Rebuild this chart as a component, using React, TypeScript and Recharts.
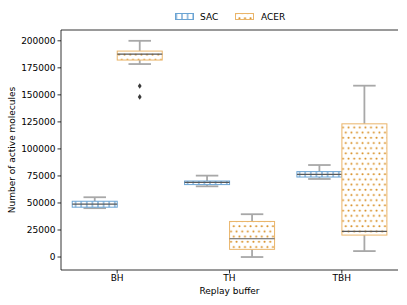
import React from "react";
import { Bar, ComposedChart, ReferenceLine, XAxis, YAxis } from "recharts";

const categories = ["BH", "TH", "TBH"];

const sacMin = [45200, 65400, 72200];
const sacQ1 = [46100, 67000, 74000];
const sacMedian = [49000, 69000, 76500];
const sacQ3 = [51600, 70300, 79000];
const sacMax = [55300, 75300, 85100];
const sacOutliers: number[][] = [[], [], []];

const acerMin = [178500, 0, 5500];
const acerQ1 = [182200, 7100, 20300];
const acerMedian = [187700, 16900, 23700];
const acerQ3 = [190500, 32900, 123200];
const acerMax = [200000, 39600, 158500];
const acerOutliers: number[][] = [[158200, 148100], [], []];

const yTicks = [0, 25000, 50000, 75000, 100000, 125000, 150000, 175000, 200000];
const yDomain = [-12000, 210000];
const xDomain = [-0.5, 2.5];

const SAC_EDGE = "#6aa4d4";
const SAC_HATCH = "#3f86c2";
const ACER_EDGE = "#eab56a";
const ACER_HATCH = "#d68a1a";
const WHISKER = "#a8a8a8";
const MEDIAN = "#595959";
const FONT = "DejaVu Sans";

const data = categories.map((cat, i) => ({
  cat,
  sacRange: [sacMin[i], sacMax[i]],
  acerRange: [acerMin[i], acerMax[i]],
  sac: { min: sacMin[i], q1: sacQ1[i], median: sacMedian[i], q3: sacQ3[i], max: sacMax[i], outliers: sacOutliers[i] },
  acer: { min: acerMin[i], q1: acerQ1[i], median: acerMedian[i], q3: acerQ3[i], max: acerMax[i], outliers: acerOutliers[i] },
}));

function Patterns({ prefix }: { prefix: string }) {
  return (
    <defs>
      <pattern id={`${prefix}-sac`} patternUnits="userSpaceOnUse" width={5.6} height={10}>
        <rect width={5.6} height={10} fill="#fff" />
        <line x1={2.8} x2={2.8} y1={0} y2={10} stroke={SAC_HATCH} strokeWidth={1} />
      </pattern>
      <pattern id={`${prefix}-acer`} patternUnits="userSpaceOnUse" width={5.6} height={10.4}>
        <rect width={5.6} height={10.4} fill="#fff" />
        <circle cx={1.4} cy={2.6} r={1} fill={ACER_HATCH} />
        <circle cx={4.2} cy={7.8} r={1} fill={ACER_HATCH} />
      </pattern>
    </defs>
  );
}

function makeBox(key: "sac" | "acer", fill: string, edge: string) {
  return (props: any) => {
    const { x, y, width, height, payload } = props;
    const s = payload[key];
    const top = Math.min(y, y + height);
    const bottom = Math.max(y, y + height);
    const span = s.max - s.min;
    const py = (v: number) => bottom - ((v - s.min) / span) * (bottom - top);
    const cx = x + width / 2;
    const capL = x + width * 0.25;
    const capR = x + width * 0.75;
    return (
      <g>
        <line x1={cx} x2={cx} y1={py(s.max)} y2={py(s.q3)} stroke={WHISKER} strokeWidth={1.8} />
        <line x1={cx} x2={cx} y1={py(s.q1)} y2={py(s.min)} stroke={WHISKER} strokeWidth={1.8} />
        <line x1={capL} x2={capR} y1={py(s.max)} y2={py(s.max)} stroke={WHISKER} strokeWidth={1.8} />
        <line x1={capL} x2={capR} y1={py(s.min)} y2={py(s.min)} stroke={WHISKER} strokeWidth={1.8} />
        <rect
          x={x}
          y={py(s.q3)}
          width={width}
          height={py(s.q1) - py(s.q3)}
          fill={fill}
          stroke={edge}
          strokeWidth={1}
        />
        <line x1={x} x2={x + width} y1={py(s.median)} y2={py(s.median)} stroke={MEDIAN} strokeWidth={1.2} />
        {s.outliers.map((v: number, k: number) => {
          const oy = py(v);
          return (
            <path
              key={k}
              d={`M${cx},${oy - 2.8} L${cx + 1.9},${oy} L${cx},${oy + 2.8} L${cx - 1.9},${oy} Z`}
              fill="#3a3a3a"
            />
          );
        })}
      </g>
    );
  };
}

function YLabel(props: any) {
  const vb = props.viewBox || { x: 0, y: 30, width: 61, height: 240 };
  const cx = vb.x + 12;
  const cy = vb.y + vb.height / 2;
  return (
    <text
      x={cx}
      y={cy}
      transform={`rotate(-90, ${cx}, ${cy})`}
      textAnchor="middle"
      dominantBaseline="central"
      fontSize={9}
      fontFamily={FONT}
      fill="#000"
    >
      Number of active molecules
    </text>
  );
}

function ChartLegend() {
  return (
    <svg width={407} height={30} style={{ position: "absolute", left: 0, top: 0 }}>
      <Patterns prefix="lg" />
      <rect x={175.5} y={13.5} width={18} height={6} fill="url(#lg-sac)" stroke={SAC_EDGE} />
      <text x={200} y={16.5} fontSize={9} fontFamily={FONT} dominantBaseline="central" fill="#000">
        SAC
      </text>
      <rect x={235.5} y={13.5} width={18} height={6} fill="url(#lg-acer)" stroke={ACER_EDGE} />
      <text x={261} y={16.5} fontSize={9} fontFamily={FONT} dominantBaseline="central" fill="#000">
        ACER
      </text>
    </svg>
  );
}

export default function App() {
  const tickStyle = { fontSize: 9, fill: "#000", fontFamily: FONT };
  return (
    <div style={{ position: "fixed", left: 0, top: 0, width: 407, height: 305, background: "#fff" }}>
      <ComposedChart
        width={407}
        height={305}
        data={data}
        margin={{ top: 30, right: 9, bottom: 0, left: 0 }}
        barCategoryGap="10%"
        barGap={0}
        style={{ fontFamily: FONT }}
      >
        <Patterns prefix="bx" />
        <XAxis
          dataKey="cat"
          height={35}
          tick={tickStyle}
          tickSize={3.5}
          tickMargin={1}
          axisLine={{ stroke: "#000", strokeWidth: 0.8 }}
          tickLine={{ stroke: "#000", strokeWidth: 0.8 }}
          label={{ value: "Replay buffer", position: "insideBottom", offset: 11, fontSize: 9, fill: "#000", fontFamily: FONT }}
        />
        <XAxis xAxisId="frame" type="number" domain={xDomain} hide />
        <YAxis
          type="number"
          domain={yDomain}
          ticks={yTicks}
          allowDataOverflow
          width={61}
          tick={tickStyle}
          tickSize={3.5}
          tickMargin={2}
          axisLine={{ stroke: "#000", strokeWidth: 0.8 }}
          tickLine={{ stroke: "#000", strokeWidth: 0.8 }}
          label={<YLabel />}
        />
        <ReferenceLine y={yDomain[1]} stroke="#000" strokeWidth={0.8} />
        <ReferenceLine xAxisId="frame" x={xDomain[1]} stroke="#000" strokeWidth={0.8} />
        <Bar dataKey="sacRange" isAnimationActive={false} shape={makeBox("sac", "url(#bx-sac)", SAC_EDGE)} />
        <Bar dataKey="acerRange" isAnimationActive={false} shape={makeBox("acer", "url(#bx-acer)", ACER_EDGE)} />
      </ComposedChart>
      <ChartLegend />
    </div>
  );
}
